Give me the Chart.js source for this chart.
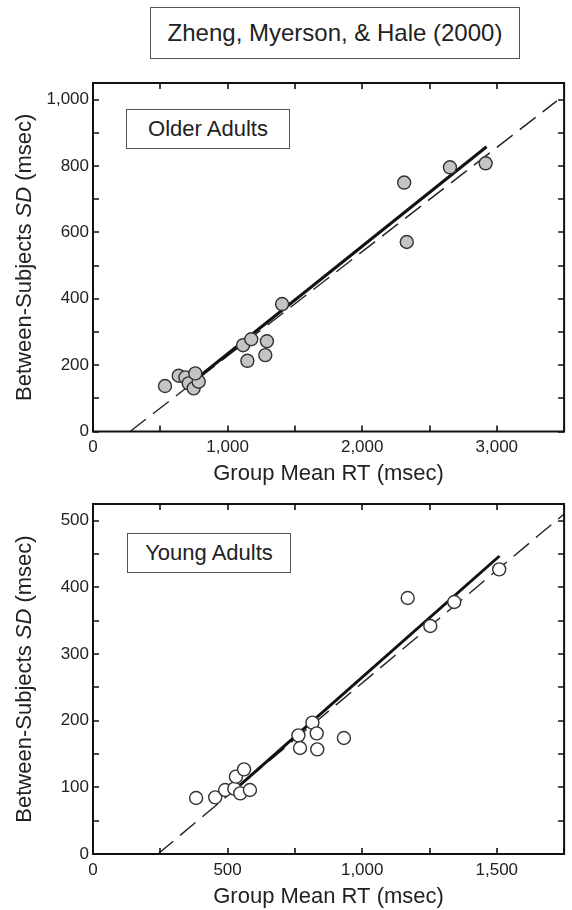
<!DOCTYPE html>
<html><head><meta charset="utf-8">
<script src="https://cdn.jsdelivr.net/npm/chart.js@4"></script>
<style>
body{margin:0;background:#fff;width:572px;height:910px;position:relative;overflow:hidden;font-family:'Liberation Sans',Arial,sans-serif;color:#222}
.box{position:absolute;border:1px solid #555;background:#fff;display:flex;align-items:center;justify-content:center;box-sizing:border-box;white-space:nowrap;z-index:5}
canvas{position:absolute;left:0}
</style></head><body>
<div class="box" style="left:150px;top:7px;width:370px;height:52px;font-size:24px">Zheng, Myerson, &amp; Hale (2000)</div>
<canvas id="c1" width="572" height="440" style="top:60px"></canvas>
<canvas id="c2" width="572" height="430" style="top:480px"></canvas>
<div class="box" style="left:126px;top:109px;width:164px;height:40px;font-size:22px">Older Adults</div>
<div class="box" style="left:127px;top:533px;width:164px;height:40px;font-size:22px">Young Adults</div>
<script>
// ---- Older adults ----
const olderRT = [535, 637, 687, 711, 748, 785, 760, 1115, 1176, 1147, 1292, 1280, 1405, 2312, 2331, 2652, 2917];
const olderSD = [137, 168, 163, 145, 130, 150, 175, 260, 278, 213, 272, 230, 384, 750, 571, 796, 808];
const olderSolidRT = [711, 2924];
const olderSolidSD = [140, 858];
const olderDashRT = [275, 3446];
const olderDashSD = [0, 996];
const olderXTicks = [0, 500, 1000, 1500, 2000, 2500, 3000, 3500];
const olderXLabels = [0, 1000, 2000, 3000];
const olderYTicks = [0, 100, 200, 300, 400, 500, 600, 700, 800, 900, 1000];
const olderYLabels = [0, 200, 400, 600, 800, 1000];

// ---- Young adults ----
const youngRT = [383, 454, 491, 525, 531, 561, 547, 583, 763, 769, 815, 831, 833, 932, 1169, 1253, 1342, 1509];
const youngSD = [84, 85, 96, 98, 116, 127, 91, 96, 178, 159, 197, 181, 157, 174, 384, 342, 378, 427];
const youngSolidRT = [545, 1510];
const youngSolidSD = [103, 447];
const youngDashRT = [241, 1750];
const youngDashSD = [0, 510];
const youngXTicks = [0, 250, 500, 750, 1000, 1250, 1500, 1750];
const youngXLabels = [0, 500, 1000, 1500];
const youngYTicks = [0, 50, 100, 150, 200, 250, 300, 350, 400, 450, 500];
const youngYLabels = [0, 100, 200, 300, 400, 500];

const FONT = "'Liberation Sans', Arial, sans-serif";
const zip = (xs, ys) => xs.map((x, i) => ({x, y: ys[i]}));

const framePlugin = {
  id: 'frame',
  afterDraw(chart) {
    const {ctx, chartArea: {left, right, top, bottom}, scales: {x, y}} = chart;
    ctx.save();
    ctx.strokeStyle = '#111';
    ctx.lineWidth = 2;
    ctx.strokeRect(left, top, right - left, bottom - top);
    const L = 6;
    ctx.lineWidth = 1.6;
    ctx.beginPath();
    x.ticks.forEach(t => {
      const px = Math.round(x.getPixelForValue(t.value));
      ctx.moveTo(px, bottom); ctx.lineTo(px, bottom - L);
      ctx.moveTo(px, top); ctx.lineTo(px, top + L);
    });
    y.ticks.forEach(t => {
      const py = Math.round(y.getPixelForValue(t.value));
      ctx.moveTo(left, py); ctx.lineTo(left + L, py);
      ctx.moveTo(right, py); ctx.lineTo(right - L, py);
    });
    ctx.stroke();
    // rotated y title with italic SD
    const parts = [['Between-Subjects ', ''], ['SD', 'italic '], [' (msec)', '']];
    ctx.fillStyle = '#222';
    ctx.textBaseline = 'middle';
    let total = 0;
    parts.forEach(p => { ctx.font = p[1] + '22px ' + FONT; total += ctx.measureText(p[0]).width; });
    ctx.translate(25, (top + bottom) / 2);
    ctx.rotate(-Math.PI / 2);
    let cx = -total / 2;
    ctx.textAlign = 'left';
    parts.forEach(p => { ctx.font = p[1] + '22px ' + FONT; ctx.fillText(p[0], cx, 0); cx += ctx.measureText(p[0]).width; });
    ctx.restore();
  }
};

function makeChart(id, o) {
  return new Chart(document.getElementById(id), {
    type: 'scatter',
    data: {
      datasets: [
        {data: zip(o.rt, o.sd), showLine: false, pointRadius: 6.5, pointHoverRadius: 6.5,
         pointBackgroundColor: o.fill, pointBorderColor: '#333', pointBorderWidth: 1.4},
        {data: zip(o.solidRT, o.solidSD), showLine: true, borderColor: '#111', borderWidth: 3, pointRadius: 0},
        {data: zip(o.dashRT, o.dashSD), showLine: true, borderColor: '#222', borderWidth: 1.4, borderDash: [20, 9], pointRadius: 0}
      ]
    },
    options: {
      responsive: false, animation: false, devicePixelRatio: 1,
      layout: {padding: {top: o.padTop, right: 3, left: 0, bottom: 0}},
      plugins: {legend: {display: false}, tooltip: {enabled: false}},
      scales: {
        x: {
          type: 'linear', min: 0, max: o.xTicks[o.xTicks.length - 1],
          afterBuildTicks: s => { s.ticks = o.xTicks.map(v => ({value: v})); },
          afterFit: s => { s.height = o.xHeight; },
          grid: {display: false, drawTicks: false}, border: {display: false},
          ticks: {autoSkip: false, maxRotation: 0, padding: 6, color: '#222', font: {family: FONT, size: 17},
                  callback: v => o.xLabels.includes(v) ? v.toLocaleString('en-US') : ''},
          title: {display: true, text: 'Group Mean RT (msec)', color: '#222', font: {family: FONT, size: 22},
                  padding: {top: 0, bottom: o.titlePad}}
        },
        y: {
          type: 'linear', min: 0, max: o.yMax,
          afterBuildTicks: s => { s.ticks = o.yTicks.map(v => ({value: v})); },
          afterFit: s => { s.width = 93; },
          grid: {display: false, drawTicks: false}, border: {display: false},
          ticks: {autoSkip: false, padding: 4, color: '#222', font: {family: FONT, size: 17},
                  callback: v => o.yLabels.includes(v) ? v.toLocaleString('en-US') : ''}
        }
      }
    },
    plugins: [framePlugin]
  });
}

makeChart('c1', {rt: olderRT, sd: olderSD, solidRT: olderSolidRT, solidSD: olderSolidSD,
  dashRT: olderDashRT, dashSD: olderDashSD, fill: '#c4c4c4',
  xTicks: olderXTicks, xLabels: olderXLabels, yTicks: olderYTicks, yLabels: olderYLabels,
  yMax: 1050, padTop: 23, xHeight: 68.5, titlePad: 13});
makeChart('c2', {rt: youngRT, sd: youngSD, solidRT: youngSolidRT, solidSD: youngSolidSD,
  dashRT: youngDashRT, dashSD: youngDashSD, fill: '#ffffff',
  xTicks: youngXTicks, xLabels: youngXLabels, yTicks: youngYTicks, yLabels: youngYLabels,
  yMax: 525, padTop: 24, xHeight: 56, titlePad: 0});
</script>
</body></html>
